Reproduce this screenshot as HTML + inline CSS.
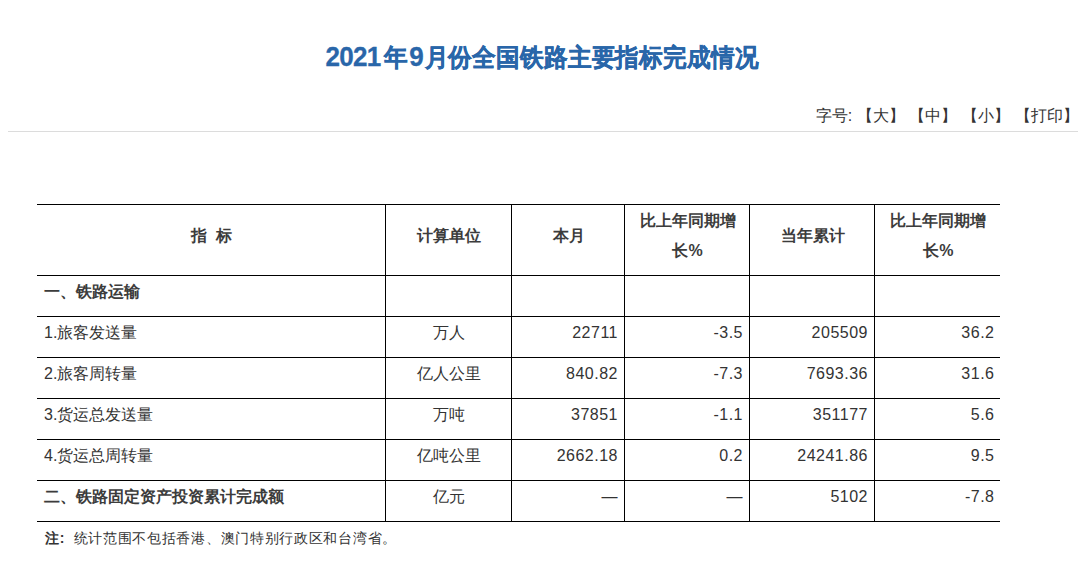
<!DOCTYPE html>
<html><head><meta charset="utf-8">
<style>
html,body{margin:0;padding:0;background:#fff;}
body{width:1082px;height:572px;overflow:hidden;position:relative;font-family:"Liberation Sans",sans-serif;color:#333;}
.title{position:absolute;left:1px;top:37.5px;width:1082px;text-align:center;font-size:24px;font-weight:bold;color:#2966a9;line-height:36px;letter-spacing:-0.15px;transform:scaleY(1.06);transform-origin:50% 50%;-webkit-text-stroke:0.3px #2966a9;}
.title .d{font-size:26px;letter-spacing:-0.7px;}
.title .d1{margin-right:3px;}
.title .d2{margin:0 1.5px 0 2px;}
.tools{position:absolute;right:3px;top:105px;font-size:16px;letter-spacing:0.06px;color:#333;line-height:22px;white-space:nowrap;}
.hr{position:absolute;left:8px;top:131px;width:1070px;height:1px;background:#dcdcdc;}
table{position:absolute;left:37px;top:204px;border-collapse:collapse;font-size:16px;color:#333;}
td{border:1px solid #000;padding:0 8px 8px 7px;height:41px;box-sizing:border-box;}
tr:first-child td{border-top:1px solid #000;}
td:first-child{border-left:none;}
td:last-child{border-right:none;}
.h td{font-weight:bold;color:#3c3c3c;text-align:center;height:71px;line-height:30px;padding-left:9px;padding-right:7px;}
.c{text-align:center;padding-left:9px;padding-right:7px;}
.r{text-align:right;padding-right:5.5px;letter-spacing:0.5px;}
.b{font-weight:bold;color:#3c3c3c;}
.note{position:absolute;left:45px;top:528px;font-size:14px;letter-spacing:0.7px;color:#333;line-height:20px;white-space:nowrap;}
</style></head><body>
<div class="title"><span class="d d1">2021</span>年<span class="d d2">9</span>月份全国铁路主要指标完成情况</div>
<div class="tools">字号: 【大】 【中】 【小】 【打印】</div>
<div class="hr"></div>
<table>
<colgroup><col style="width:348px"><col style="width:126px"><col style="width:113px"><col style="width:125px"><col style="width:125px"><col style="width:126px"></colgroup>
<tr class="h"><td>指&nbsp;&nbsp;标</td><td>计算单位</td><td>本月</td><td>比上年同期增<br>长%</td><td>当年累计</td><td>比上年同期增<br>长%</td></tr>
<tr><td class="b">一、铁路运输</td><td></td><td></td><td></td><td></td><td></td></tr>
<tr><td>1.旅客发送量</td><td class="c">万人</td><td class="r">22711</td><td class="r">-3.5</td><td class="r">205509</td><td class="r">36.2</td></tr>
<tr><td>2.旅客周转量</td><td class="c">亿人公里</td><td class="r">840.82</td><td class="r">-7.3</td><td class="r">7693.36</td><td class="r">31.6</td></tr>
<tr><td>3.货运总发送量</td><td class="c">万吨</td><td class="r">37851</td><td class="r">-1.1</td><td class="r">351177</td><td class="r">5.6</td></tr>
<tr><td>4.货运总周转量</td><td class="c">亿吨公里</td><td class="r">2662.18</td><td class="r">0.2</td><td class="r">24241.86</td><td class="r">9.5</td></tr>
<tr><td class="b">二、铁路固定资产投资累计完成额</td><td class="c">亿元</td><td class="r">—</td><td class="r">—</td><td class="r">5102</td><td class="r">-7.8</td></tr>
</table>
<div class="note"><b style="margin-right:8.5px">注:</b>统计范围不包括香港、澳门特别行政区和台湾省。</div>
</body></html>
